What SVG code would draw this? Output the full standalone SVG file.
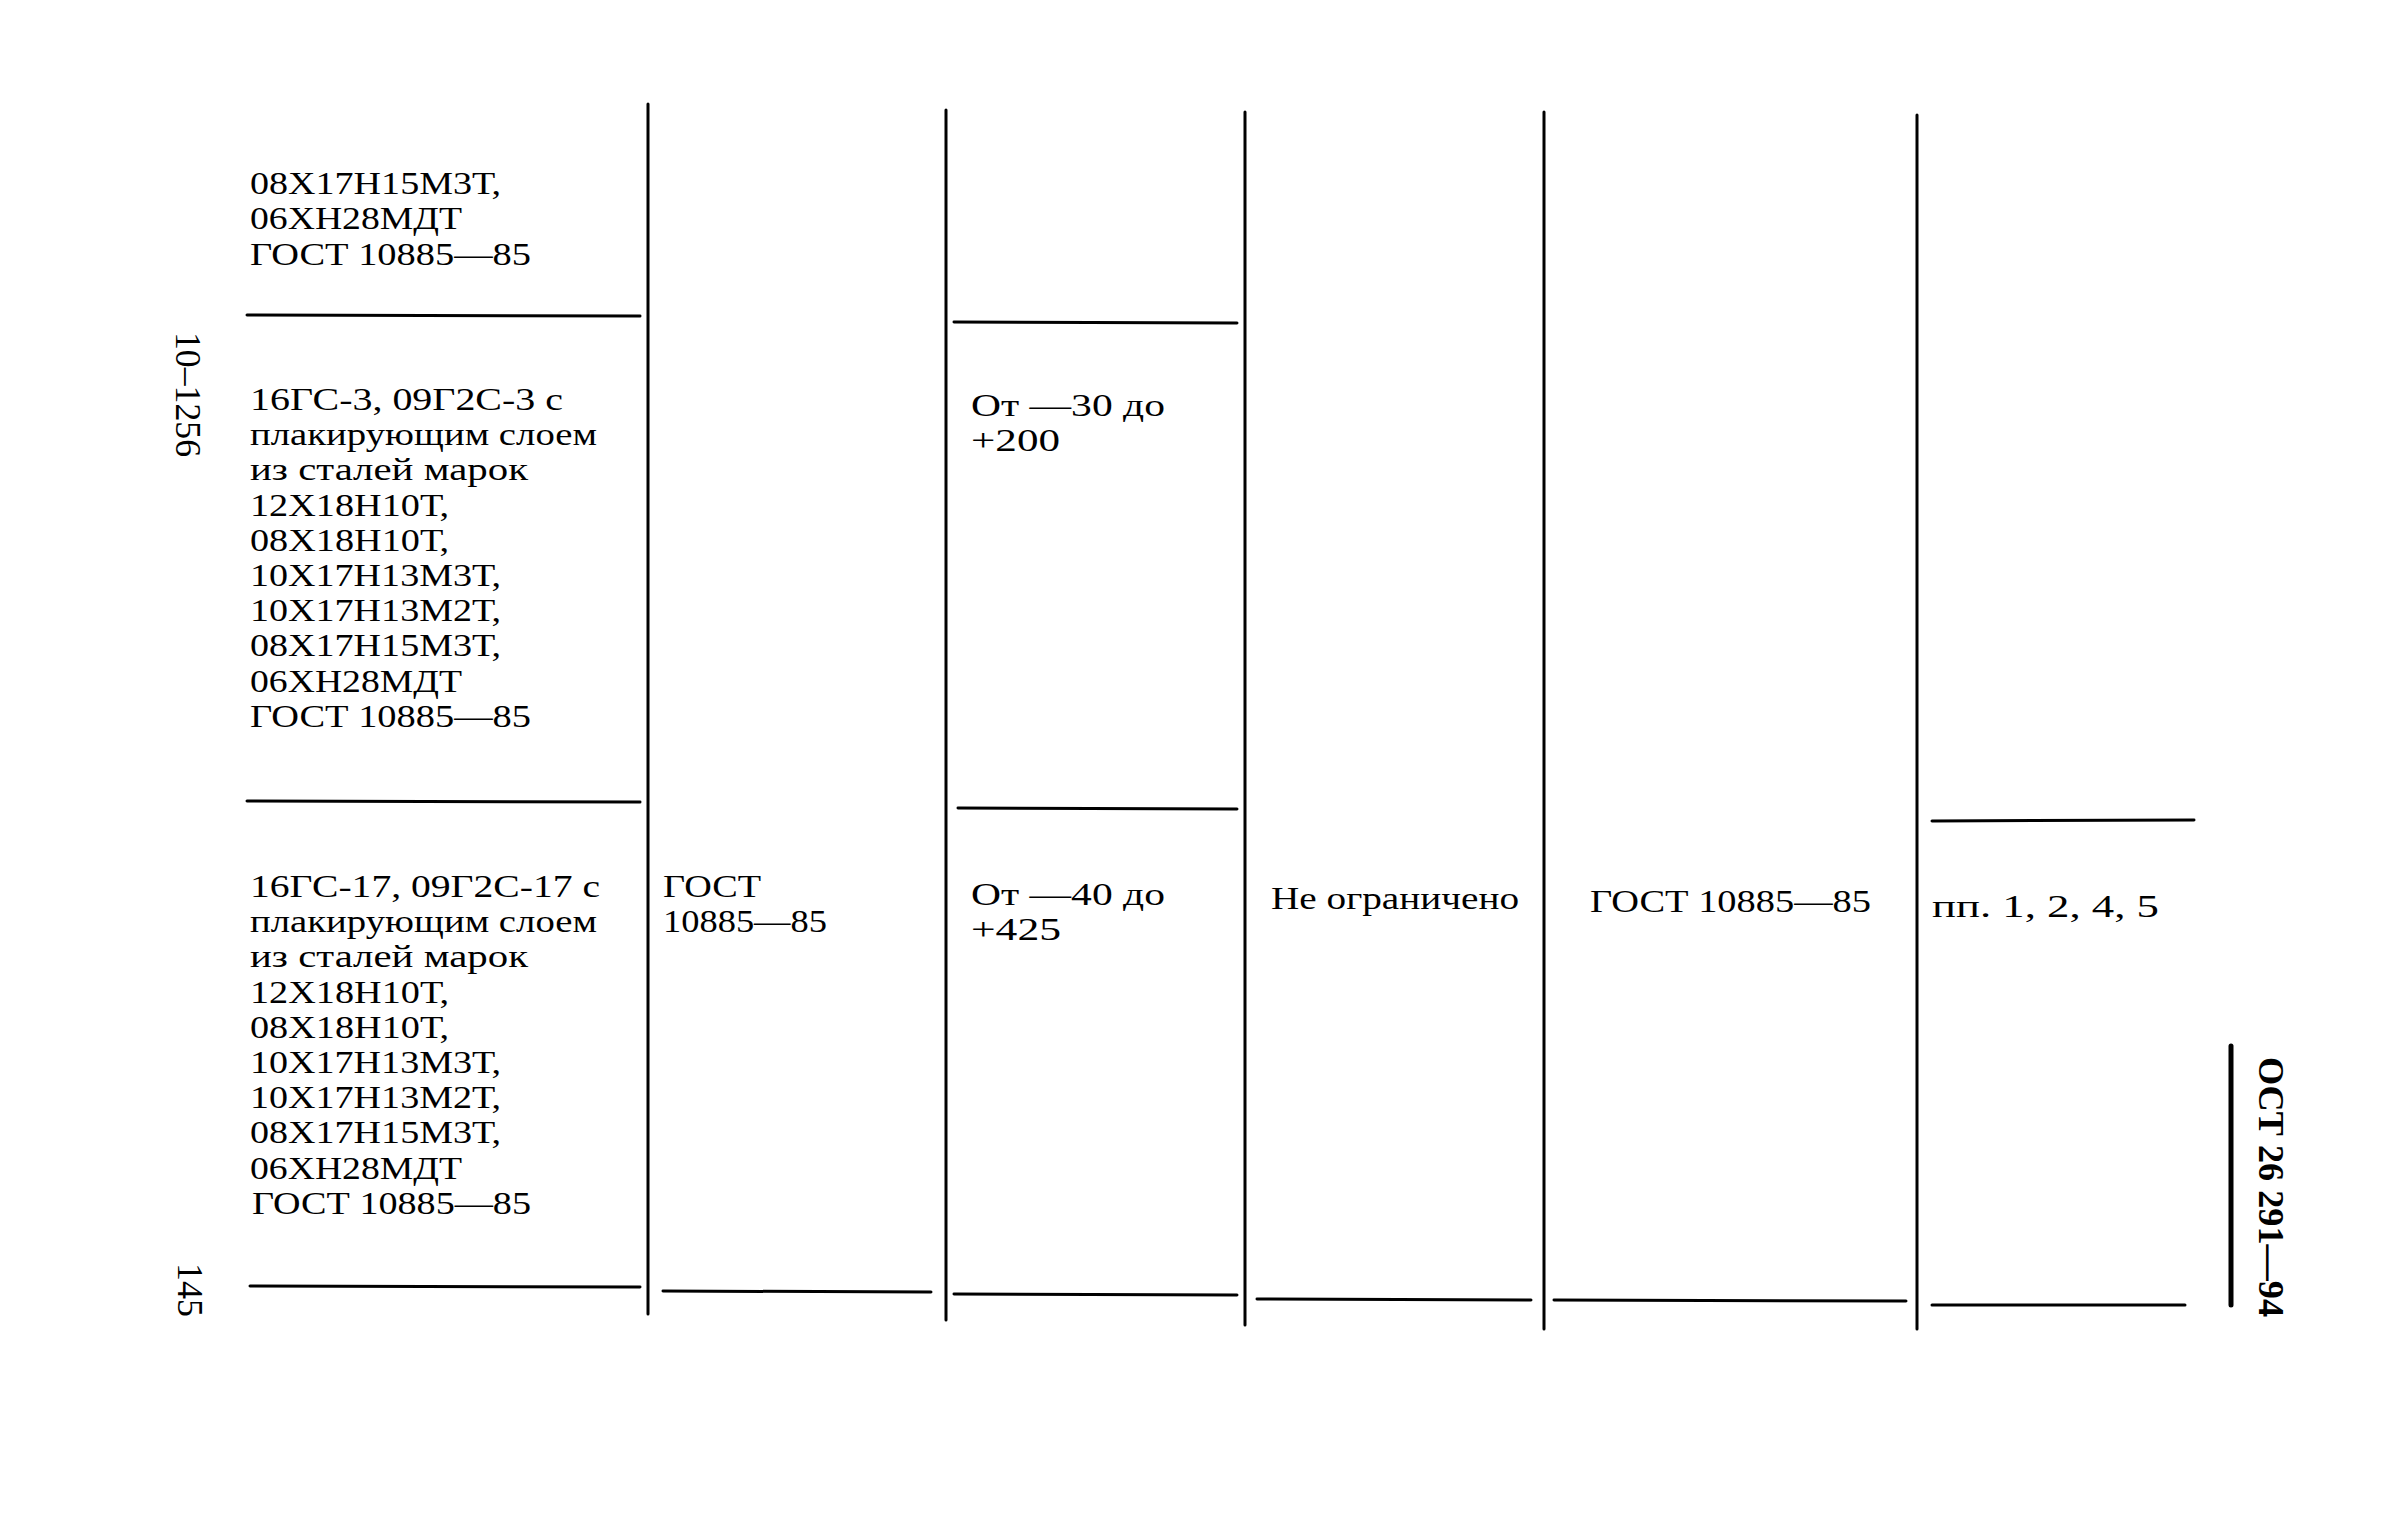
<svg xmlns="http://www.w3.org/2000/svg" width="2401" height="1536" viewBox="0 0 2401 1536">
<style>
text{font-family:"Liberation Serif","Times New Roman",serif;font-size:31px;fill:#000}
.b{font-weight:bold;font-size:35px}
.m{font-size:35px}
line{stroke:#000;stroke-width:3;stroke-linecap:round}
.thick{stroke-width:5}
</style>
<rect width="2401" height="1536" fill="#fff"/>
<g id="connectors">
<line x1="648" y1="104" x2="648" y2="1314"/>
<line x1="946" y1="110" x2="946" y2="1320"/>
<line x1="1245" y1="112" x2="1245" y2="1325"/>
<line x1="1544" y1="112" x2="1544" y2="1329"/>
<line x1="1917" y1="115" x2="1917" y2="1329"/>
<line x1="247" y1="315" x2="640" y2="316"/>
<line x1="247" y1="801" x2="640" y2="802"/>
<line x1="250" y1="1286" x2="640" y2="1287"/>
<line x1="954" y1="322" x2="1237" y2="323"/>
<line x1="958" y1="808" x2="1237" y2="809"/>
<line x1="663" y1="1291" x2="931" y2="1292"/>
<line x1="954" y1="1294" x2="1237" y2="1295"/>
<line x1="1257" y1="1299" x2="1531" y2="1300"/>
<line x1="1554" y1="1300" x2="1906" y2="1301"/>
<line x1="1932" y1="821" x2="2194" y2="820"/>
<line x1="1932" y1="1305" x2="2185" y2="1305"/>
<line class="thick" x1="2231" y1="1046" x2="2231" y2="1305"/>
</g>
<g id="row1-col1">
<text x="250" y="194" textLength="251" lengthAdjust="spacingAndGlyphs">08Х17Н15М3Т,</text>
<text x="250" y="229" textLength="212" lengthAdjust="spacingAndGlyphs">06ХН28МДТ</text>
<text x="250" y="265" textLength="281" lengthAdjust="spacingAndGlyphs">ГОСТ 10885—85</text>
</g>
<g id="row2-col1">
<text x="250" y="410" textLength="313" lengthAdjust="spacingAndGlyphs">16ГС-3, 09Г2С-3 с</text>
<text x="250" y="445" textLength="347" lengthAdjust="spacingAndGlyphs">плакирующим слоем</text>
<text x="250" y="480" textLength="278" lengthAdjust="spacingAndGlyphs">из сталей марок</text>
<text x="250" y="516" textLength="199" lengthAdjust="spacingAndGlyphs">12Х18Н10Т,</text>
<text x="250" y="551" textLength="199" lengthAdjust="spacingAndGlyphs">08Х18Н10Т,</text>
<text x="250" y="586" textLength="251" lengthAdjust="spacingAndGlyphs">10Х17Н13М3Т,</text>
<text x="250" y="621" textLength="251" lengthAdjust="spacingAndGlyphs">10Х17Н13М2Т,</text>
<text x="250" y="656" textLength="251" lengthAdjust="spacingAndGlyphs">08Х17Н15М3Т,</text>
<text x="250" y="692" textLength="212" lengthAdjust="spacingAndGlyphs">06ХН28МДТ</text>
<text x="250" y="727" textLength="281" lengthAdjust="spacingAndGlyphs">ГОСТ 10885—85</text>
</g>
<g id="row2-col3">
<text x="971" y="416" textLength="194" lengthAdjust="spacingAndGlyphs">От —30 до</text>
<text x="971" y="451" textLength="89" lengthAdjust="spacingAndGlyphs">+200</text>
</g>
<g id="row3-col1">
<text x="250" y="897" textLength="350" lengthAdjust="spacingAndGlyphs">16ГС-17, 09Г2С-17 с</text>
<text x="250" y="932" textLength="347" lengthAdjust="spacingAndGlyphs">плакирующим слоем</text>
<text x="250" y="967" textLength="278" lengthAdjust="spacingAndGlyphs">из сталей марок</text>
<text x="250" y="1003" textLength="199" lengthAdjust="spacingAndGlyphs">12Х18Н10Т,</text>
<text x="250" y="1038" textLength="199" lengthAdjust="spacingAndGlyphs">08Х18Н10Т,</text>
<text x="250" y="1073" textLength="251" lengthAdjust="spacingAndGlyphs">10Х17Н13М3Т,</text>
<text x="250" y="1108" textLength="251" lengthAdjust="spacingAndGlyphs">10Х17Н13М2Т,</text>
<text x="250" y="1143" textLength="251" lengthAdjust="spacingAndGlyphs">08Х17Н15М3Т,</text>
<text x="250" y="1179" textLength="212" lengthAdjust="spacingAndGlyphs">06ХН28МДТ</text>
<text x="252" y="1214" textLength="279" lengthAdjust="spacingAndGlyphs">ГОСТ 10885—85</text>
</g>
<g id="row3-col2">
<text x="663" y="897" textLength="98" lengthAdjust="spacingAndGlyphs">ГОСТ</text>
<text x="663" y="932" textLength="164" lengthAdjust="spacingAndGlyphs">10885—85</text>
</g>
<g id="row3-col3">
<text x="971" y="905" textLength="194" lengthAdjust="spacingAndGlyphs">От —40 до</text>
<text x="971" y="940" textLength="90" lengthAdjust="spacingAndGlyphs">+425</text>
</g>
<g id="row3-col4">
<text x="1271" y="909" textLength="248" lengthAdjust="spacingAndGlyphs">Не ограничено</text>
</g>
<g id="row3-col5">
<text x="1590" y="912" textLength="281" lengthAdjust="spacingAndGlyphs">ГОСТ 10885—85</text>
</g>
<g id="row3-col6">
<text x="1932" y="917" textLength="227" lengthAdjust="spacingAndGlyphs">пп. 1, 2, 4, 5</text>
</g>
<g id="margin">
<text class="m" transform="translate(176,332) rotate(90)" textLength="125" lengthAdjust="spacingAndGlyphs">10–1256</text>
<text class="m" transform="translate(178,1263) rotate(90)" textLength="54" lengthAdjust="spacingAndGlyphs">145</text>
<text class="b" transform="translate(2259,1057) rotate(90)" textLength="260" lengthAdjust="spacingAndGlyphs">ОСТ 26 291—94</text>
</g>
</svg>
